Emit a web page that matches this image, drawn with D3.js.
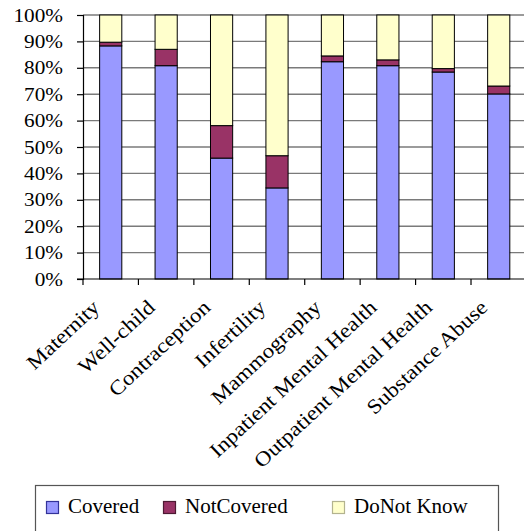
<!DOCTYPE html>
<html>
<head>
<meta charset="utf-8">
<script src="https://cdn.jsdelivr.net/npm/d3@7"></script>
<style>
  html, body { margin: 0; padding: 0; background: #fff; }
  svg { display: block; }
  text { font-family: "Liberation Serif", "Times New Roman", serif; fill: #000; }
</style>
</head>
<body>
<svg id="chart" width="524" height="531"></svg>
<script>
// Coverage of benefit categories (percent of respondents)
const categories = ["Maternity", "Well-child", "Contraception", "Infertility",
  "Mammography", "Inpatient Mental Health", "Outpatient Mental Health", "Substance Abuse"];
const covered    = [88.3, 80.8, 45.8, 34.5, 82.3, 80.8, 78.4, 70.1];
const notCovered = [1.4, 6.2, 12.3, 12.2, 2.2, 2.2, 1.3, 3.0];
const doNotKnow  = [10.3, 13.0, 41.9, 53.3, 15.5, 17.0, 20.3, 26.9];
const seriesNames = ["Covered", "NotCovered", "Do Not Know"];
const legendLabels = ["Covered", "NotCovered", "DoNot Know"];
const yTicks = [0, 10, 20, 30, 40, 50, 60, 70, 80, 90, 100];

const colors = ["#9999FF", "#993366", "#FFFFCC"];
const swatchStroke = ["#333399", "#4d1a33", "#b3b38f"];

const svg = d3.select("#chart");
const plotLeft = 83, plotTop = 15, plotBottom = 279;
const step = 55.43;
const x = d3.scaleBand().domain(categories)
  .range([plotLeft, plotLeft + step * categories.length])
  .paddingInner(0.6).paddingOuter(0.3);
const y = d3.scaleLinear().domain([0, 100]).range([plotBottom, plotTop]);

const rows = categories.map((c, i) => ({
  cat: c, "Covered": covered[i], "NotCovered": notCovered[i], "Do Not Know": doNotKnow[i]
}));
const stacked = d3.stack().keys(seriesNames)(rows);

// horizontal gridlines
svg.append("g").selectAll("line").data(yTicks.slice(1)).join("line")
  .attr("x1", plotLeft).attr("x2", 524)
  .attr("y1", d => y(d)).attr("y2", d => y(d))
  .attr("stroke", "#7a7a7a").attr("stroke-width", 1.4);

// stacked bars
svg.append("g").selectAll("g").data(stacked).join("g")
  .attr("fill", (d, i) => colors[i])
  .selectAll("rect").data(d => d).join("rect")
  .attr("x", d => x(d.data.cat))
  .attr("width", x.bandwidth())
  .attr("y", d => y(d[1]))
  .attr("height", d => y(d[0]) - y(d[1]))
  .attr("stroke", "#000").attr("stroke-width", 1);

// y axis
const yAxis = d3.axisLeft(y).tickValues(yTicks).tickSize(6).tickFormat(d => d + "%");
const gy = svg.append("g").attr("transform", `translate(${plotLeft},0)`).call(yAxis);
gy.select(".domain").attr("stroke", "#000").attr("stroke-width", 1.2);
gy.selectAll(".tick line").attr("stroke", "#000").attr("stroke-width", 1.2);
gy.selectAll(".tick text").remove();
gy.selectAll(".tick").append("text")
  .attr("transform", "translate(-20,6) scale(1.18,1)")
  .attr("text-anchor", "end")
  .style("font-size", "18px")
  .text(d => d + "%");

// x axis: ticks at band boundaries, rotated category labels
const half = x.step() * x.paddingInner() / 2;
const gx = svg.append("g").attr("transform", `translate(0,${plotBottom})`);
gx.append("line").attr("x1", plotLeft - 6).attr("x2", 524).attr("y1", 0).attr("y2", 0)
  .attr("stroke", "#000").attr("stroke-width", 1.2);
gx.selectAll("line.tk").data(categories).join("line").attr("class", "tk")
  .attr("x1", d => x(d) - half)
  .attr("x2", d => x(d) - half)
  .attr("y1", 0).attr("y2", 6)
  .attr("stroke", "#000").attr("stroke-width", 1.2);
gx.selectAll("text").data(categories).join("text")
  .attr("transform", d => `translate(${x(d) + x.bandwidth() / 2 - 10},30) rotate(-43) scale(1.12,1)`)
  .attr("text-anchor", "end")
  .style("font-size", "20.5px")
  .text(d => d);

// legend
const lg = svg.append("g");
lg.append("rect").attr("x", 35.5).attr("y", 485.5).attr("width", 463).attr("height", 60)
  .attr("fill", "#fff").attr("stroke", "#555").attr("stroke-width", 1.2);
const legendX = [46, 163, 332];
const items = lg.selectAll("g.item").data(legendLabels).join("g").attr("class", "item")
  .attr("transform", (d, i) => `translate(${legendX[i]},501)`);
items.append("rect").attr("x", 0.5).attr("y", 0.5).attr("width", 12).attr("height", 12)
  .attr("fill", (d, i) => colors[i]).attr("stroke", (d, i) => swatchStroke[i]).attr("stroke-width", 1.2);
items.append("text").attr("x", 22).attr("y", 12)
  .style("font-size", "21px")
  .text(d => d);
</script>
</body>
</html>
